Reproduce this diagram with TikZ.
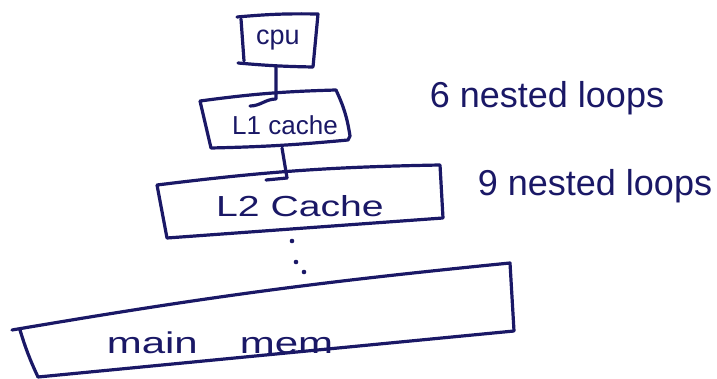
\documentclass[tikz,border=0pt]{standalone}
\usepackage{fontspec}
\setmainfont{Liberation Sans}
\definecolor{ink}{HTML}{1A1866}
\begin{document}
\begin{tikzpicture}[x=1pt,y=-1pt,
  pen/.style={draw=ink,line width=3.2pt,line cap=round,line join=round},
  lbl/.style={text=ink,inner sep=0pt},
  note/.style={text=ink,font=\fontsize{36}{38}\selectfont,inner sep=0pt}]
\useasboundingbox (0,0) rectangle (717,379);
% cpu box
\draw[pen] (237,17) to[bend left=3] (318,14) -- (313,67) to[bend left=2] (238,63);
\draw[pen] (241,19) -- (244,61);
\node[lbl,font=\fontsize{27}{29}\selectfont] (cpu) at (278,40) {cpu};
% L1 box
\draw[pen] (200,101) to[bend left=3] (336,90) to[bend left=8] (350,136) -- (348,140) to[bend left=2] (211,148) -- (200,101);
\node[lbl,font=\fontsize{26}{28}\selectfont] (l1) at (285,125) {L1 cache};
% L2 box
\draw[pen] (157,185) to[bend left=3] (440,165) -- (443,218) -- (167,238) -- (157,185);
\node[lbl,font=\fontsize{29}{31}\selectfont] (l2) at (300,206) {\scalebox{1.35}[1]{L2 Cache}};
% main mem box
\draw[pen] (12,330) to[bend left=2] (510,263) -- (514,331) -- (38,377) to[bend left=4] (20,330);
\node[lbl,font=\fontsize{30}{32}\selectfont] (mm) at (220,343) {\scalebox{1.4}[1]{main\hspace{30pt}mem}};
% connectors
\coordinate (cpub) at (276,67);
\coordinate (l1t) at (276,99);
\coordinate (l1c) at (250,106);
\coordinate (l1b) at (282,148);
\coordinate (l2t) at (287,178);
\coordinate (l2tl) at (266,180);
\draw[pen] (cpub) -- (l1t) to[out=180,in=0] (l1c);
\draw[pen] (l1b) -- (l2t);
\draw[pen] (l2tl) -- (l2t);
% dots
\fill[ink] (292,241) circle (2.3pt);
\fill[ink] (296,262) circle (2.3pt);
\fill[ink] (304,272) circle (2.3pt);
% notes
\node[note] (n6) at (547,98) {6 nested loops};
\node[note] (n9) at (595,186) {9 nested loops};
\end{tikzpicture}
\end{document}
